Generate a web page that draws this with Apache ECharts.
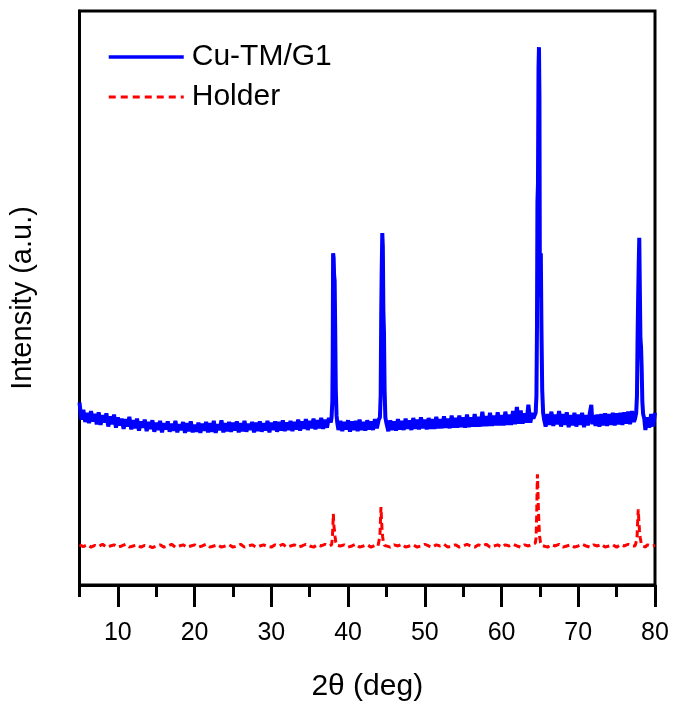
<!DOCTYPE html>
<html>
<head>
<meta charset="utf-8">
<script src="https://cdn.jsdelivr.net/npm/echarts@6/dist/echarts.min.js"></script>
<style>html,body{margin:0;padding:0;background:#fff;}#chart{width:673px;height:711px;}</style>
</head>
<body>
<div id="chart"></div>
<script>
// 2θ (deg), intensity (a.u.)
const cuTmG1 = [
[5.00,318],[5.25,288],[5.50,305],[5.75,284],[6.00,300],[6.25,282],[6.50,303],[6.75,285],[7.00,298],[7.25,280],
[7.50,301],[7.75,279],[8.00,296],[8.25,283],[8.50,299],[8.75,276],[9.00,294],[9.25,280],[9.50,297],[9.75,274],
[10.00,292],[10.25,278],[10.50,290],[10.75,272],[11.00,289],[11.25,276],[11.50,293],[11.75,271],[12.00,287],[12.25,273],
[12.50,290],[12.75,269],[13.00,285],[13.25,274],[13.50,288],[13.75,268],[14.00,284],[14.25,272],[14.50,287],[14.75,267],
[15.00,283],[15.25,270],[15.50,286],[15.75,266],[16.00,282],[16.25,271],[16.50,285],[16.75,267],[17.00,281],[17.25,269],
[17.50,286],[17.75,266],[18.00,280],[18.25,270],[18.50,284],[18.75,265],[19.00,282],[19.25,268],[19.50,285],[19.75,266],
[20.00,279],[20.25,267],[20.50,283],[20.75,265],[21.00,281],[21.25,269],[21.50,284],[21.75,266],[22.00,282],[22.25,267],
[22.50,286],[22.75,265],[23.00,280],[23.25,270],[23.50,287],[23.75,266],[24.00,282],[24.25,268],[24.50,284],[24.75,267],
[25.00,283],[25.25,269],[25.50,285],[25.75,266],[26.00,282],[26.25,268],[26.50,286],[26.75,267],[27.00,281],[27.25,270],
[27.50,284],[27.75,266],[28.00,283],[28.25,268],[28.50,285],[28.75,267],[29.00,282],[29.25,269],[29.50,286],[29.75,266],
[30.00,283],[30.25,270],[30.50,285],[30.75,267],[31.00,284],[31.25,269],[31.50,287],[31.75,268],[32.00,283],[32.25,270],
[32.50,286],[32.75,268],[33.00,284],[33.25,271],[33.50,288],[33.75,269],[34.00,285],[34.25,272],[34.50,289],[34.75,270],
[35.00,286],[35.25,273],[35.50,290],[35.75,271],[36.00,287],[36.25,273],[36.50,291],[36.75,272],[37.00,288],[37.25,274],
[37.50,291],[37.75,283],[37.85,292],[37.95,320],[38.00,400],[38.05,578],[38.12,570],[38.18,540],[38.25,530],[38.32,450],
[38.40,340],[38.50,295],[38.60,282],[38.75,270],
[39.00,286],[39.25,268],[39.50,284],[39.75,271],[40.00,287],[40.25,267],[40.50,285],[40.75,270],[41.00,286],[41.25,268],
[41.50,288],[41.75,270],[42.00,284],[42.25,269],[42.50,287],[42.75,271],[43.00,285],[43.25,270],[43.50,289],[43.75,273],
[44.00,288],[44.15,292],[44.25,330],[44.32,470],[44.38,544],[44.46,613],[44.53,590],[44.60,479],[44.68,440],[44.76,340],
[44.86,292],[45.00,282],
[45.25,268],[45.50,287],[45.75,270],[46.00,285],[46.25,269],[46.50,289],[46.75,271],[47.00,286],[47.25,270],[47.50,290],
[47.75,272],[48.00,287],[48.25,270],[48.50,291],[48.75,272],[49.00,288],[49.25,271],[49.50,292],[49.75,273],[50.00,288],
[50.25,271],[50.50,291],[50.75,272],[51.00,289],[51.25,272],[51.50,293],[51.75,273],[52.00,289],[52.25,273],[52.50,294],
[52.75,274],[53.00,290],[53.25,273],[53.50,295],[53.75,274],[54.00,291],[54.25,274],[54.50,295],[54.75,275],[55.00,292],
[55.25,274],[55.50,297],[55.75,275],[56.00,292],[56.25,276],[56.50,298],[56.75,276],[57.00,293],[57.25,276],[57.50,302],
[57.75,277],[58.00,294],[58.25,277],[58.50,300],[58.75,277],[59.00,295],[59.25,278],[59.50,301],[59.75,278],[60.00,296],
[60.25,278],[60.50,302],[60.75,279],[61.00,297],[61.25,279],[61.50,303],[61.75,280],[62.00,310],[62.25,281],[62.50,304],
[62.75,281],[63.00,299],[63.25,283],[63.50,314],[63.75,283],[64.00,300],[64.15,290],
[64.30,290],[64.45,300],[64.55,330],[64.62,450],[64.68,667],[64.75,700],[64.82,900],[64.88,937],[64.94,850],[65.00,502],
[65.06,560],[65.12,578],[65.20,450],[65.30,340],[65.42,300],[65.55,288],
[65.75,276],[66.00,298],[66.25,279],[66.50,302],[66.75,277],[67.00,297],[67.25,280],[67.50,303],[67.75,276],[68.00,298],
[68.25,279],[68.50,301],[68.75,275],[69.00,296],[69.25,278],[69.50,300],[69.75,276],[70.00,297],[70.25,279],[70.50,300],
[70.75,275],[71.00,296],[71.25,278],[71.50,299],[71.70,314],[71.85,280],[72.00,296],[72.25,277],[72.50,297],[72.75,276],
[73.00,298],[73.25,278],[73.50,299],[73.75,277],[74.00,298],[74.25,279],[74.50,300],[74.75,278],[75.00,299],[75.25,280],
[75.50,300],[75.75,279],[76.00,301],[76.25,281],[76.50,302],[76.75,280],[77.00,303],[77.25,284],
[77.40,290],[77.55,300],[77.65,330],[77.72,420],[77.80,497],[77.88,560],[77.95,605],[78.02,520],[78.10,430],[78.18,415],
[78.26,380],[78.35,320],[78.45,298],[78.60,290],
[78.75,270],[79.00,292],[79.25,274],[79.50,298],[79.75,276],[80.00,300]
];

const holder = [
[5.0,70],[5.5,67],[6.0,70],[6.5,66],[7.0,69],[7.5,67],[8.0,71],[8.5,66],[9.0,68],[9.5,70],
[10.0,66],[10.5,68],[11.0,71],[11.5,66],[12.0,68],[12.5,70],[13.0,66],[13.5,69],[14.0,68],[14.5,65],
[15.0,68],[15.5,70],[16.0,66],[16.5,68],[17.0,71],[17.5,66],[18.0,68],[18.5,70],[19.0,66],[19.5,68],
[20.0,70],[20.5,66],[21.0,68],[21.5,71],[22.0,66],[22.5,68],[23.0,70],[23.5,66],[24.0,68],[24.5,70],
[25.0,66],[25.5,68],[26.0,71],[26.5,66],[27.0,68],[27.5,70],[28.0,66],[28.5,68],[29.0,70],[29.5,67],
[30.0,66],[30.5,70],[31.0,68],[31.5,71],[32.0,66],[32.5,68],[33.0,70],[33.5,66],[34.0,68],[34.5,71],
[35.0,68],[35.5,66],[36.0,70],[36.5,68],[37.0,71],[37.5,68],
[37.70,68],[37.85,70],[37.95,80],[38.03,105],[38.08,124],[38.14,105],[38.22,96],[38.30,85],[38.40,74],[38.55,69],
[39.0,68],[39.5,70],[40.0,66],[40.5,68],[41.0,71],[41.5,66],[42.0,68],[42.5,70],[43.0,66],[43.5,69],
[43.90,68],[44.05,71],[44.15,85],[44.23,115],[44.29,136],[44.35,115],[44.42,98],[44.50,85],[44.60,74],[44.75,69],
[45.0,68],[45.5,66],[46.0,70],[46.5,68],[47.0,71],[47.5,66],[48.0,68],[48.5,70],[49.0,66],[49.5,68],
[50.0,71],[50.5,68],[51.0,66],[51.5,70],[52.0,68],[52.5,71],[53.0,66],[53.5,68],[54.0,70],[54.5,66],
[55.0,68],[55.5,71],[56.0,68],[56.5,66],[57.0,70],[57.5,68],[58.0,71],[58.5,66],[59.0,68],[59.5,70],
[60.0,66],[60.5,70],[61.0,68],[61.5,71],[62.0,68],[62.5,66],[63.0,70],[63.5,68],[64.0,71],
[64.20,69],[64.40,73],[64.50,82],[64.58,120],[64.64,170],[64.68,193],[64.74,165],[64.80,135],[64.88,105],[64.96,85],
[65.08,74],[65.25,69],
[65.5,68],[66.0,66],[66.5,70],[67.0,68],[67.5,71],[68.0,66],[68.5,68],[69.0,70],[69.5,66],[70.0,68],
[70.5,71],[71.0,68],[71.5,66],[72.0,70],[72.5,68],[73.0,71],[73.5,66],[74.0,68],[74.5,70],[75.0,66],
[75.5,70],[76.0,68],[76.5,71],[77.0,68],
[77.40,68],[77.55,71],[77.65,80],[77.74,110],[77.82,132],[77.90,110],[77.98,95],[78.08,82],[78.20,73],[78.40,68],
[78.75,66],[79.0,70],[79.5,68],[80.0,69]
];

const seriesNames = ['Cu-TM/G1', 'Holder'];
const majorTicks = [10, 20, 30, 40, 50, 60, 70, 80];
const minorTicks = [5, 15, 25, 35, 45, 55, 65, 75];

const FONT = '"Liberation Sans", Arial, Helvetica, sans-serif';
const chart = echarts.init(document.getElementById('chart'), null, {renderer: 'canvas'});
chart.setOption({
  animation: false,
  backgroundColor: '#fff',
  textStyle: {fontFamily: FONT, color: '#000'},
  grid: {left: 79.5, right: 18, top: 11, bottom: 126, show: true, borderColor: '#000', borderWidth: 3, backgroundColor: 'transparent'},
  legend: {
    orient: 'vertical', left: 102, top: 37,
    itemWidth: 75, itemHeight: 14, itemGap: 10,
    textStyle: {fontSize: 30, color: '#000', fontFamily: FONT, padding: [0, 0, 0, 3]},
    data: [
      {name: seriesNames[0], itemStyle: {opacity: 0}, lineStyle: {color: '#0000ff', width: 3.5}},
      {name: seriesNames[1], itemStyle: {opacity: 0}, lineStyle: {color: '#ff0000', width: 3, type: [7, 5]}}
    ]
  },
  xAxis: [{
    type: 'value', min: 5, max: 80, position: 'bottom',
    name: '2θ (deg)', nameLocation: 'middle', nameGap: 87,
    nameTextStyle: {fontSize: 30, color: '#000', fontFamily: FONT},
    axisLine: {show: true, lineStyle: {color: '#000', width: 3}},
    axisTick: {show: true, inside: false, length: 22, lineStyle: {color: '#000', width: 3}, customValues: majorTicks},
    axisLabel: {show: true, margin: 36, fontSize: 25, color: '#000', fontFamily: FONT, customValues: majorTicks},
    splitLine: {show: false}
  }, {
    type: 'value', min: 5, max: 80, position: 'bottom',
    axisLine: {show: false},
    axisTick: {show: true, inside: false, length: 12, lineStyle: {color: '#000', width: 3}, customValues: minorTicks},
    axisLabel: {show: false},
    splitLine: {show: false}
  }],
  yAxis: {
    type: 'value', min: 0, max: 1000,
    name: 'Intensity (a.u.)', nameLocation: 'middle', nameGap: 42,
    nameTextStyle: {fontSize: 29, color: '#000', fontFamily: FONT},
    axisLine: {show: true, lineStyle: {color: '#000', width: 3}},
    axisTick: {show: false}, axisLabel: {show: false}, splitLine: {show: false}
  },
  series: [{
    name: seriesNames[0], type: 'line', data: cuTmG1, symbol: 'none', showSymbol: false,
    xAxisIndex: 0, sampling: null, z: 3,
    lineStyle: {color: '#0000ff', width: 4}, itemStyle: {color: '#0000ff'}
  }, {
    name: seriesNames[1], type: 'line', data: holder, symbol: 'none', showSymbol: false,
    xAxisIndex: 0, z: 2,
    lineStyle: {color: '#ff0000', width: 3, type: [7, 4]}, itemStyle: {color: '#ff0000'}
  }]
});
</script>
</body>
</html>
